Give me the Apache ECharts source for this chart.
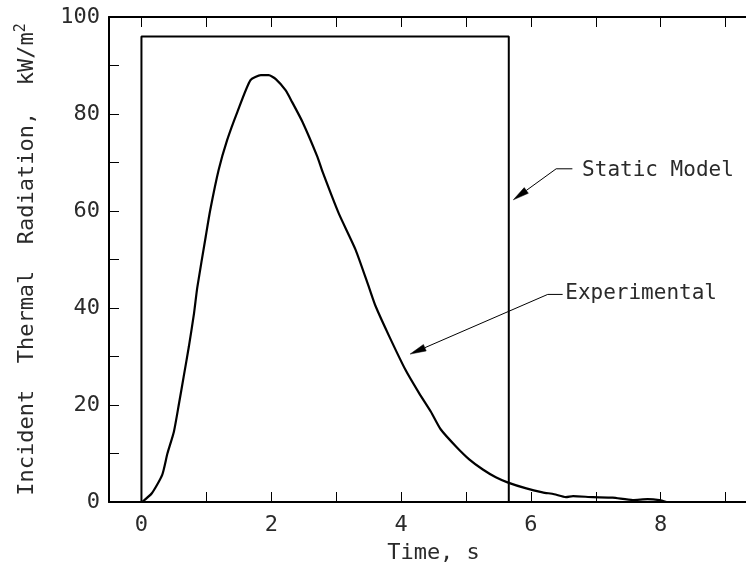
<!DOCTYPE html>
<html>
<head>
<meta charset="utf-8">
<script src="https://cdn.jsdelivr.net/npm/echarts@6/dist/echarts.min.js"></script>
<style>html,body{margin:0;padding:0;background:#fff;overflow:hidden}#c{width:746px;height:580px}</style>
</head>
<body>
<div id="c"></div>
<script>
// ---- data ----
const expTime = [0.01,0.16,0.32,0.40,0.50,0.58,0.65,0.73,0.81,0.86,0.99,1.06,1.19,1.32,1.48,1.68,1.84,1.96,2.07,2.22,2.32,2.48,2.71,2.79,3.04,3.30,3.51,3.61,3.82,4.07,4.28,4.46,4.61,4.85,5.05,5.26,5.46,5.65,5.93,6.18,6.36,6.54,6.65,6.95,7.26,7.57,7.80,7.98,8.09];
const expValue = [0,1.8,5.6,10,14.5,20.4,25.8,32,38.9,44.2,54.7,60.2,68.5,74.6,80.5,87.0,88.0,88.0,87.2,84.9,82.5,78.4,71.2,68.1,59.5,52.0,44.1,40.3,34.1,27.2,22.4,18.6,15.0,11.4,8.8,6.7,5.1,4.0,2.8,2.0,1.6,1.0,1.2,1.0,0.9,0.4,0.6,0.4,0];
const staticTime = [0,0,5.66,5.66];
const staticValue = [0,96,96,0];
const xTicks = [0,1,2,3,4,5,6,7,8,9];
const xLabels = [0,2,4,6,8];
const yLabels = [0,20,40,60,80,100];
// annotations
const annoText = ['Static Model','Experimental'];
const annoTextPos = [[6.79,68.4],[6.53,43.0]];
const annoHorizEnd = [[6.64,68.7],[6.49,42.8]];
const annoElbow = [[6.39,68.7],[6.26,42.8]];
const annoTip = [[5.73,62.3],[4.14,30.5]];

const FONT = 'DejaVu Sans Mono';
const TXT = '#2a2a2a';
const chart = echarts.init(document.getElementById('c'));
const zip = (a,b)=>a.map((x,i)=>[x,b[i]]);

const option = {
  animation: false,
  backgroundColor: '#fff',
  grid: {left:109, top:17, width:649, height:485, containLabel:false, outerBoundsMode:'none'},
  xAxis: [{
    type:'value', min:-0.5, max:9.5, position:'bottom',
    name:'Time, s', nameLocation:'middle', nameGap:40,
    nameTextStyle:{fontFamily:FONT, fontSize:22, color:TXT},
    axisLine:{show:true, onZero:false, lineStyle:{color:'#000', width:2}},
    axisTick:{show:true, inside:true, length:10, customValues:xTicks, lineStyle:{color:'#000', width:1}},
    axisLabel:{show:true, customValues:xLabels, margin:12, fontFamily:FONT, fontSize:22, color:TXT},
    splitLine:{show:false}
  },{
    type:'value', min:-0.5, max:9.5, position:'top',
    axisLine:{show:true, onZero:false, lineStyle:{color:'#000', width:2}},
    axisTick:{show:true, inside:true, length:10, customValues:xTicks, lineStyle:{color:'#000', width:1}},
    axisLabel:{show:false}, splitLine:{show:false}
  }],
  yAxis: [{
    type:'value', min:0, max:100, interval:10, position:'left',
    name:'Incident  Thermal  Radiation,  kW/m{sup|2}', nameLocation:'middle', nameGap:68,
    nameTextStyle:{fontFamily:FONT, fontSize:22, color:TXT,
      rich:{sup:{fontFamily:FONT, fontSize:15, color:TXT, verticalAlign:'bottom', padding:[0,0,12,0]}}},
    axisLine:{show:true, onZero:false, lineStyle:{color:'#000', width:2}},
    axisTick:{show:true, inside:true, length:10, lineStyle:{color:'#000', width:1}},
    axisLabel:{show:true, customValues:yLabels, margin:9, fontFamily:FONT, fontSize:22, color:TXT},
    splitLine:{show:false}
  },{
    type:'value', min:0, max:100, interval:10, position:'right',
    axisLine:{show:true, onZero:false, lineStyle:{color:'#000', width:2}},
    axisTick:{show:true, inside:true, length:10, lineStyle:{color:'#000', width:1}},
    axisLabel:{show:false}, splitLine:{show:false}
  }],
  series: [{
    name:'Static Model', type:'line', data:zip(staticTime, staticValue),
    symbol:'none', lineStyle:{color:'#000', width:2}
  },{
    name:'Experimental', type:'line', data:zip(expTime, expValue),
    symbol:'none', smooth:0.2, lineStyle:{color:'#000', width:2.2}
  }]
};
chart.setOption(option);

// annotation graphics from data coordinates
const px = p => chart.convertToPixel({xAxisIndex:0, yAxisIndex:0}, p);
const graphics = [];
annoText.forEach((t,i)=>{
  const h = px(annoHorizEnd[i]), e = px(annoElbow[i]), tip = px(annoTip[i]);
  const dx = tip[0]-e[0], dy = tip[1]-e[1], L = Math.hypot(dx,dy);
  const ux = dx/L, uy = dy/L, nx = -uy, ny = ux;
  const alen = 16, aw = 3.5;
  const base = [tip[0]-ux*alen, tip[1]-uy*alen];
  graphics.push({type:'polyline', shape:{points:[h,e,base]}, style:{stroke:'#000', lineWidth:1, fill:null}, silent:true});
  graphics.push({type:'polygon', shape:{points:[tip,[base[0]+nx*aw, base[1]+ny*aw],[base[0]-nx*aw, base[1]-ny*aw]]}, style:{fill:'#000', stroke:'#000', lineWidth:0.5}, silent:true});
  const tp = px(annoTextPos[i]);
  graphics.push({type:'text', x:tp[0], y:tp[1], style:{text:t, font:'21px "'+FONT+'"', fill:TXT, verticalAlign:'middle', align:'left'}, silent:true});
});
chart.setOption({graphic: graphics});
</script>
</body>
</html>
